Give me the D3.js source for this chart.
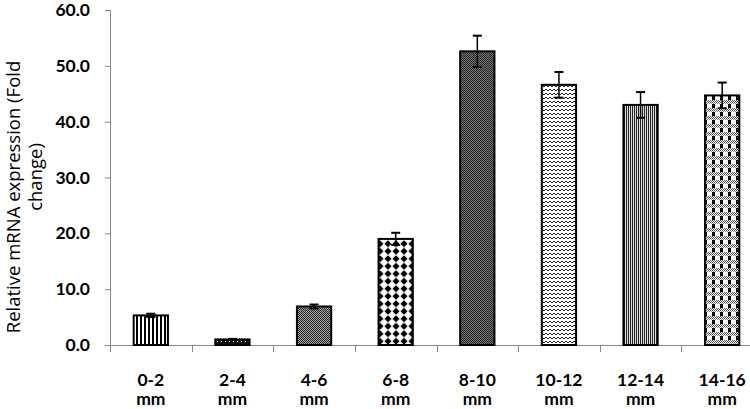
<!DOCTYPE html>
<html><head><meta charset="utf-8">
<script src="https://cdn.jsdelivr.net/npm/d3@7"></script>
<style>body{margin:0;background:#fff}svg{display:block}</style>
</head><body>
<script>
const categories = ["0-2 mm","2-4 mm","4-6 mm","6-8 mm","8-10 mm","10-12 mm","12-14 mm","14-16 mm"];
const values = [5.3, 1.0, 6.9, 19.0, 52.6, 46.6, 43.0, 44.7];
const errors = [0.3, 0.1, 0.35, 1.1, 2.8, 2.3, 2.3, 2.3];
const yTicks = [0, 10, 20, 30, 40, 50, 60];
const yLabelLines = ["Relative mRNA expression (Fold", "change)"];

const W = 750, H = 409;
const svg = d3.select("body").append("svg").attr("width", W).attr("height", H);
const font = "Lato, 'Open Sans', sans-serif";
const labelFont = "'Open Sans', sans-serif";

const defs = svg.append("defs");
function pat(id, w, h, build){
  const p = defs.append("pattern").attr("id", id).attr("patternUnits","userSpaceOnUse")
    .attr("width", w).attr("height", h);
  build(p);
}
function r(p, x, y, w, h, c){ p.append("rect").attr("x",x).attr("y",y).attr("width",w).attr("height",h).attr("fill",c); }
// 1 wide vertical stripes
pat("p0", 4, 4, p => { r(p,0,0,4,4,"#fff"); r(p,0,0,2,4,"#000"); });
// 2 dark dotted
pat("p1", 4, 4, p => { r(p,0,0,4,4,"#111"); r(p,1,1,1,1,"#fff"); });
// 3 fine checker
pat("p2", 2, 2, p => { r(p,0,0,2,2,"#aaa"); r(p,0,0,1,1,"#222"); r(p,1,1,1,1,"#222"); });
// 4 diamonds
pat("p3", 8, 7.5, p => { r(p,0,0,8,7.5,"#fff");
  p.append("path").attr("d","M4,0.3 L7.6,3.75 L4,7.2 L0.4,3.75Z").attr("fill","#000"); });
// 5 dark checker
pat("p4", 2, 2, p => { r(p,0,0,2,2,"#777"); r(p,0,0,1,1,"#222"); r(p,1,1,1,1,"#222"); });
// 6 zigzag waves
pat("p5", 4, 4, p => { r(p,0,0,4,4,"#fff");
  p.append("path").attr("d","M0,3 L2,1 L4,3").attr("fill","none").attr("stroke","#222").attr("stroke-width",1); });
// 7 dense vertical lines
pat("p6", 2, 4, p => { r(p,0,0,2,4,"#ddd"); r(p,0,0,1,4,"#222"); });
// 8 plaid
pat("p7", 8, 8, p => { r(p,0,0,8,8,"#fff");
  r(p,0,0,3,4,"#000");
  r(p,0,4,1,1,"#555"); r(p,2,4,1,1,"#555"); r(p,4,4,1,1,"#555"); r(p,6,4,1,1,"#555");
  r(p,1,5,1,1,"#555"); r(p,3,5,1,1,"#555"); r(p,5,5,1,1,"#555"); r(p,7,5,1,1,"#555");
  r(p,0,6,1,1,"#555"); r(p,2,6,1,1,"#555"); r(p,4,6,1,1,"#555"); r(p,6,6,1,1,"#555");
  r(p,1,7,1,1,"#888"); r(p,3,7,1,1,"#888"); r(p,5,7,1,1,"#888"); r(p,7,7,1,1,"#888"); });

const x = d3.scaleBand().domain(categories).range([110, 763]).paddingInner(0.58).paddingOuter(0.29);
const y = d3.scaleLinear().domain([0, 60]).range([345, 10]);

// y axis
const ya = svg.append("g").attr("transform","translate(110,0)")
  .call(d3.axisLeft(y).tickValues(yTicks).tickSize(5).tickPadding(15).tickFormat(d3.format(".1f")));
ya.select(".domain").attr("stroke","#868686").attr("d","M-5,10.5H0.5V345.5");
ya.selectAll(".tick line").attr("stroke","#868686");
ya.selectAll(".tick text").attr("font-family",font).attr("font-weight","bold").attr("font-size","17.5px").attr("fill","#000");

// x axis line + boundary ticks
const step = x.step();
const x0 = x.range()[0];
svg.append("line").attr("x1",x0).attr("x2",W).attr("y1",345.5).attr("y2",345.5).attr("stroke","#868686");
svg.selectAll(".xt").data(d3.range(categories.length+1)).join("line")
  .attr("x1",i=>Math.round(x0+i*step)+0.5).attr("x2",i=>Math.round(x0+i*step)+0.5)
  .attr("y1",345).attr("y2",352).attr("stroke","#868686");

// bars
svg.selectAll(".bar").data(categories).join("rect")
  .attr("x", d=>x(d)).attr("width", x.bandwidth())
  .attr("y", (d,i)=>y(values[i])).attr("height",(d,i)=>y(0)-y(values[i]))
  .attr("fill",(d,i)=>`url(#p${i})`).attr("stroke","#000").attr("stroke-width",2);

// error bars
const eb = svg.selectAll(".eb").data(categories).join("g");
eb.append("line").attr("x1",d=>x(d)+x.bandwidth()/2).attr("x2",d=>x(d)+x.bandwidth()/2)
  .attr("y1",(d,i)=>y(values[i]-errors[i])).attr("y2",(d,i)=>y(values[i]+errors[i]))
  .attr("stroke","#000").attr("stroke-width",1.5);
[1,-1].forEach(s=>{
  eb.append("line").attr("x1",d=>x(d)+x.bandwidth()/2-4.5).attr("x2",d=>x(d)+x.bandwidth()/2+4.5)
    .attr("y1",(d,i)=>y(values[i]+s*errors[i])).attr("y2",(d,i)=>y(values[i]+s*errors[i]))
    .attr("stroke","#000").attr("stroke-width",2);
});

// x labels
const xl = svg.selectAll(".xl").data(categories).join("text")
  .attr("text-anchor","middle").attr("font-family",font).attr("font-weight","bold").attr("font-size","17.5px").attr("fill","#000");
xl.append("tspan").attr("x",d=>x(d)+x.bandwidth()/2).attr("y",386).text(d=>d.split(" ")[0]);
xl.append("tspan").attr("x",d=>x(d)+x.bandwidth()/2).attr("y",405).text(d=>d.split(" ")[1]);

// y label
const yl = svg.append("g").attr("font-family",labelFont).attr("font-size","18.5px").attr("fill","#000");
yl.append("text").attr("transform","translate(20,197) rotate(-90)").attr("text-anchor","middle").text(yLabelLines[0]);
yl.append("text").attr("transform","translate(42,177) rotate(-90)").attr("text-anchor","middle").text(yLabelLines[1]);
</script>
</body></html>
